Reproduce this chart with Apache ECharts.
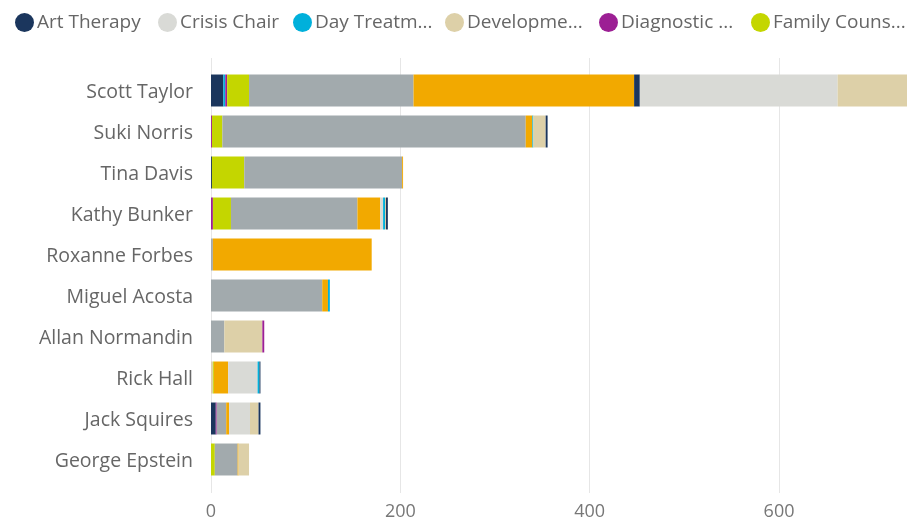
<!DOCTYPE html>
<html>
<head>
<meta charset="utf-8">
<script src="https://cdn.jsdelivr.net/npm/echarts@6/dist/echarts.min.js"></script>
<style>
  html, body { margin: 0; padding: 0; background: #fff; }
  #chart { width: 907px; height: 524px; }
</style>
</head>
<body>
<div id="chart"></div>
<script>
// categories, top to bottom
const staff = ['Scott Taylor', 'Suki Norris', 'Tina Davis', 'Kathy Bunker', 'Roxanne Forbes',
  'Miguel Acosta', 'Allan Normandin', 'Rick Hall', 'Jack Squires', 'George Epstein']

// service hours per staff member (same order as staff)
const artTherapy = [13, 0, 1, 0, 0, 0, 0, 0, 5, 0]
const crisisChair = [0, 0, 0, 0, 0, 0, 0, 0, 0, 0]
const dayTreatment = [2, 0, 0, 0, 0, 0, 0, 0, 0, 0]
const developmental = [0, 0, 0, 0, 0, 0, 0, 2, 0, 0]
const diagnostic = [2, 1, 0, 2, 0, 0, 0, 0, 1, 0]
const familyCounseling = [23, 11, 34, 19, 0, 0, 0, 1, 0, 4]
const groupTherapy = [173, 319, 166, 133, 2, 117, 14, 0, 10, 24]
const individualTherapy = [232, 7, 1, 24, 167, 6, 0, 15, 3, 1]
const intake = [6, 0, 0, 0, 0, 0, 0, 0, 0, 0]
const medicationMgmt = [208, 0, 0, 3, 0, 0, 0, 31, 22, 0]
const nursingVisit = [0, 1, 0, 2, 0, 2, 0, 2, 0, 0]
const psychEval = [90, 13, 0, 1, 0, 0, 40, 0, 9, 11]
const psychTesting = [0, 0, 0, 0, 0, 0, 2, 0, 0, 0]
const respiteCare = [0, 2, 0, 2, 0, 0, 0, 1, 2, 0]

const seriesNames = ['Art Therapy', 'Crisis Chair', 'Day Treatment', 'Developmental Assessment',
  'Diagnostic Assessment', 'Family Counseling', 'Group Therapy', 'Individual Therapy', 'Intake',
  'Medication Management', 'Nursing Visit', 'Psychiatric Evaluation', 'Psychological Testing', 'Respite Care']
const seriesData = [artTherapy, crisisChair, dayTreatment, developmental, diagnostic, familyCounseling,
  groupTherapy, individualTherapy, intake, medicationMgmt, nursingVisit, psychEval, psychTesting, respiteCare]

// legend only shows the first six, cut off like the original
const legendLabels = ['Art Therapy', 'Crisis Chair', 'Day Treatm...', 'Developme...', 'Diagnostic ...', 'Family Couns...']
const xTicks = [0, 200, 400, 600]

const palette = ['#1B365D', '#D9DAD6', '#00B0DB', '#DDD0A8', '#9C1F94', '#C4D600', '#A2AAAD', '#F2A900',
  '#1B365D', '#D9DAD6', '#00B0DB', '#DDD0A8', '#9C1F94', '#1B365D']

const font = 'Open Sans'
const legendLeft = [10, 153, 288, 440, 594, 746]

const chart = echarts.init(document.getElementById('chart'))

chart.setOption({
  animation: false,
  textStyle: { fontFamily: font },
  legend: legendLabels.map((label, i) => ({
    left: legendLeft[i],
    top: 8,
    data: [seriesNames[i]],
    icon: 'circle',
    itemWidth: 19,
    itemHeight: 19,
    itemGap: 12,
    formatter: () => label,
    textStyle: { color: '#666', fontSize: 19, fontFamily: font, padding: [0, 0, 0, -2] }
  })),
  grid: [
    // background grid, only for the gridlines + tick labels
    { left: 211, right: 0, top: 58, bottom: 31 },
    // bars
    { left: 211, right: 0, top: 70, bottom: 44 }
  ],
  xAxis: [{
    gridIndex: 0,
    type: 'value',
    min: 0,
    max: 732,
    interval: 200,
    axisLine: { show: false },
    axisTick: { show: false },
    splitLine: { show: true, showMaxLine: false, lineStyle: { color: '#e6e6e6', width: 1 } },
    axisLabel: {
      color: '#777',
      fontSize: 18,
      margin: 10,
      formatter: v => xTicks.indexOf(v) >= 0 ? String(v) : ''
    }
  }, {
    gridIndex: 1,
    type: 'value',
    min: 0,
    max: 732,
    show: false
  }],
  yAxis: [{
    gridIndex: 0,
    type: 'category',
    data: staff,
    show: false
  }, {
    gridIndex: 1,
    type: 'category',
    data: staff,
    inverse: true,
    axisLine: { show: false },
    axisTick: { show: false },
    axisLabel: {
      margin: 18,
      formatter: v => '{n|' + v + '}',
      rich: { n: { color: '#666', fontSize: 19.5, fontFamily: font, padding: [4, 0, 0, 0] } }
    }
  }],
  series: seriesNames.map((name, i) => ({
    name: name,
    type: 'bar',
    stack: 'hours',
    xAxisIndex: 1,
    yAxisIndex: 1,
    barCategoryGap: '22%',
    clip: true,
    itemStyle: { color: palette[i] },
    data: seriesData[i]
  }))
})
</script>
</body>
</html>
